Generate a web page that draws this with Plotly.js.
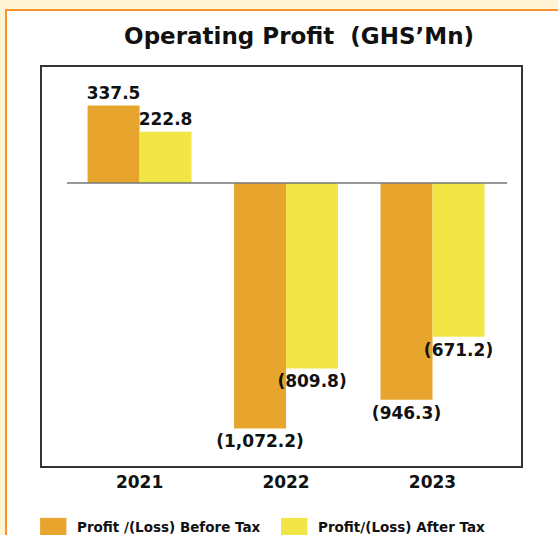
<!DOCTYPE html>
<html>
<head>
<meta charset="utf-8">
<script src="https://cdn.plot.ly/plotly-3.0.1.min.js"></script>
<style>
  html, body { margin: 0; padding: 0; width: 558px; height: 535px; overflow: hidden; background: #FFF5D4; }
  #panel { position: absolute; left: 5px; top: 9px; width: 600px; height: 600px; background: #ffffff; border-left: 2px solid #F7922C; border-top: 2px solid #F7922C; }
  #chart { position: absolute; left: 0; top: 0; width: 558px; height: 535px; }
</style>
</head>
<body>
<div id="panel"></div>
<div id="chart"></div>
<script>
const years = ['2021', '2022', '2023'];
const seriesNames = ['Profit /(Loss) Before Tax', 'Profit/(Loss) After Tax'];
const beforeTax = [337.5, -1072.2, -946.3];
const afterTax = [222.8, -809.8, -671.2];
const colors = ['#E8A52E', '#F1E646'];

function fmt(v) {
  const s = Math.abs(v).toLocaleString('en-US', {minimumFractionDigits: 1, maximumFractionDigits: 1});
  return v < 0 ? '(' + s + ')' : s;
}

const font = 'DejaVu Sans, Open Sans, sans-serif';
const traces = [beforeTax, afterTax].map((vals, i) => ({
  type: 'bar',
  name: seriesNames[i],
  x: years,
  y: vals,
  marker: {color: colors[i], line: {width: 0}},
  text: vals.map(fmt),
  textposition: 'outside',
  constraintext: 'none',
  cliponaxis: false,
  textfont: {family: font, size: 17, color: '#111', weight: 'bold'},
  hoverinfo: 'none',
  showlegend: false
}));

const legendShapes = [];
const legendAnn = [];
const legX = [-0.004, 0.499];
const legTx = [0.069, 0.572];
seriesNames.forEach((n, i) => {
  legendShapes.push({type: 'rect', xref: 'paper', yref: 'paper', x0: legX[i], x1: legX[i] + 0.055, y0: -0.13, y1: -0.2, fillcolor: colors[i], line: {width: 0}});
  legendAnn.push({xref: 'paper', yref: 'paper', x: legTx[i], y: -0.152, xanchor: 'left', yanchor: 'middle', showarrow: false, text: n, font: {family: font, size: 13.5, color: '#111', weight: 'bold'}});
});

const layout = {
  width: 558, height: 535,
  paper_bgcolor: 'rgba(0,0,0,0)',
  plot_bgcolor: '#ffffff',
  margin: {l: 42, r: 37, t: 67, b: 69},
  title: {text: 'Operating Profit  (GHS\u2019Mn)', xref: 'container', yref: 'container', x: 0.536, y: 0.933, xanchor: 'center', yanchor: 'middle', font: {family: font, size: 23, color: '#111', weight: 'bold'}},
  barmode: 'group',
  bargap: 0.29,
  bargroupgap: 0,
  xaxis: {type: 'category', range: [-0.666, 2.604], showline: true, mirror: true, linecolor: '#333', linewidth: 2, ticks: '', showgrid: false, zeroline: false, tickfont: {family: font, size: 17, color: '#111', weight: 'bold'}, fixedrange: true},
  yaxis: {range: [-1236, 506], showline: true, mirror: true, linecolor: '#333', linewidth: 2, showticklabels: false, ticks: '', showgrid: false, zeroline: false, fixedrange: true},
  shapes: [{type: 'line', xref: 'paper', yref: 'y', x0: 0.052, x1: 0.971, y0: 0, y1: 0, line: {color: '#777', width: 1.5}, layer: 'above'}].concat(legendShapes),
  annotations: legendAnn
};

Plotly.newPlot('chart', traces, layout, {displayModeBar: false, staticPlot: true});
</script>
</body>
</html>
